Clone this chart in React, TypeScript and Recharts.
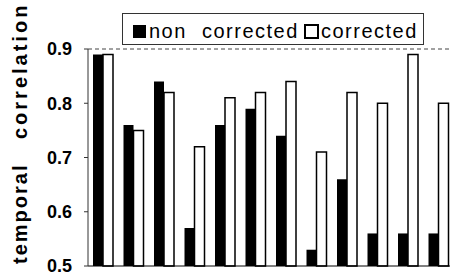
import { BarChart, Bar, XAxis, YAxis, ReferenceLine } from 'recharts';

const groups = ['1', '2', '3', '4', '5', '6', '7', '8', '9', '10', '11', '12'];
const nonCorrected = [0.89, 0.76, 0.84, 0.57, 0.76, 0.79, 0.74, 0.53, 0.66, 0.56, 0.56, 0.56];
const corrected = [0.89, 0.75, 0.82, 0.72, 0.81, 0.82, 0.84, 0.71, 0.82, 0.80, 0.89, 0.80];
const yTicks = [0.5, 0.6, 0.7, 0.8, 0.9];

const data = groups.map((g, i) => ({ name: g, non: nonCorrected[i], cor: corrected[i] }));

const font = '"Liberation Sans", Arial, sans-serif';

const YLabel = () => (
  <g fontFamily={font} fontWeight="bold" fontSize={20} fill="#000">
    <text x={27} y={264} letterSpacing={2} transform="rotate(-90 27 264)">temporal</text>
    <text x={27} y={139} letterSpacing={3} transform="rotate(-90 27 139)">correlation</text>
  </g>
);

export default function App() {
  return (
    <div style={{ position: 'absolute', left: 0, top: 0, width: 450, height: 273, overflow: 'hidden', background: '#fff' }}>
      <BarChart width={456} height={273} data={data} margin={{ top: 49, right: 2, left: 0, bottom: 0 }} barGap={0} barSize={10}>
        <XAxis dataKey="name" tick={false} tickLine={false} height={7} stroke="#000" />
        <YAxis
          domain={[0.5, 0.9]}
          ticks={yTicks}
          interval={0}
          width={88}
          stroke="#333"
          tickSize={4}
          tickMargin={12}
          tickFormatter={(v) => v.toFixed(1)}
          tick={{ fill: '#000', fontSize: 18, fontWeight: 'bold', fontFamily: font }}
          label={{ content: () => <YLabel /> }}
        />
        <ReferenceLine y={0.9} stroke="#444" strokeDasharray="4 3" />
        <Bar dataKey="non" fill="#000" isAnimationActive={false} />
        <Bar dataKey="cor" fill="#fff" stroke="#000" strokeWidth={1.5} isAnimationActive={false} />
      </BarChart>
      <div style={{ position: 'absolute', left: 122, top: 13, width: 300, height: 30, border: '1px solid #333', background: '#fff', fontFamily: font, fontSize: 20, lineHeight: '20px', letterSpacing: 1.5, color: '#000' }}>
        <span style={{ position: 'absolute', left: 10, top: 11, width: 13, height: 13, background: '#000' }} />
        <span style={{ position: 'absolute', left: 26, top: 7 }}>non</span>
        <span style={{ position: 'absolute', left: 79, top: 7 }}>corrected</span>
        <span style={{ position: 'absolute', left: 181, top: 10, width: 11, height: 11, border: '2px solid #000' }} />
        <span style={{ position: 'absolute', left: 198, top: 7 }}>corrected</span>
      </div>
    </div>
  );
}
